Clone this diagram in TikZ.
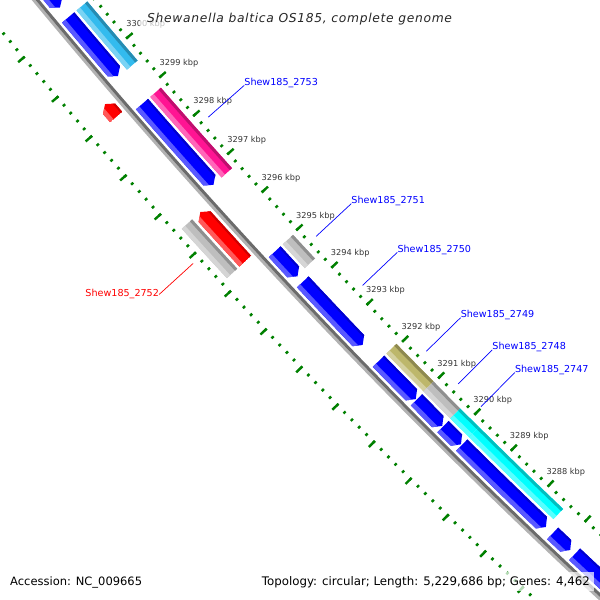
\documentclass[tikz,border=0pt]{standalone}
\usepackage{fontspec}
\setmainfont{DejaVu Sans}
\usetikzlibrary{positioning}

\definecolor{vertgrad}{HTML}{008000}
\definecolor{bleucds}{HTML}{0000FF}
\definecolor{rougecds}{HTML}{FF0000}
\definecolor{cogciel}{HTML}{33BBEE}
\definecolor{cogrose}{HTML}{FF1493}
\definecolor{coggris}{HTML}{BEBEBE}
\definecolor{cogolive}{HTML}{BDB76B}
\definecolor{cogcyan}{HTML}{00FFFF}
\definecolor{gristexte}{HTML}{333333}

\tikzstyle{squelette-clair}=[draw=black!30, line width=3pt]
\tikzstyle{squelette-fonce}=[draw=black!58, line width=3pt]
\tikzstyle{grad-min}=[draw=vertgrad, line width=2.4pt]
\tikzstyle{etiq-kbp}=[anchor=west, inner sep=0pt, text=gristexte, font={\fontsize{8.2}{10}\selectfont}]
\tikzstyle{etiq-gene}=[inner sep=0pt, font={\fontsize{9.6}{11}\selectfont}]
\tikzstyle{trait-gene}=[line width=0.7pt]
\tikzstyle{cadre-texte}=[fill=white, fill opacity=0.7, text opacity=1]

% position (kbp) -> angle
\newcommand{\ang}[1]{(139.56+0.4717*(#1-3300))}
\newcommand{\secteur}[4]{({\ang{#1}}:#3) arc[start angle={\ang{#1}}, end angle={\ang{#2}}, radius=#3] -- ({\ang{#2}}:#4) arc[start angle={\ang{#2}}, end angle={\ang{#1}}, radius=#4] -- cycle}
% gene: queue, pointe, r int, r ext, couleur
\newcommand{\gene}[5]{%
  \pgfmathsetmacro{\pb}{#2+(#1>#2?0.12:-0.12)}%
  \pgfmathsetmacro{\rmil}{(#3+#4)/2}%
  \pgfmathsetmacro{\rcl}{#4-4.5}%
  \pgfmathsetmacro{\rfo}{#3+2}%
  \pgfmathsetmacro{\rin}{#3-1}%
  \pgfmathsetmacro{\rex}{#4+1}%
  \begin{scope}
    \clip ({\ang{#1}}:#3) arc[start angle={\ang{#1}}, end angle={\ang{\pb}}, radius=#3]
      -- ({\ang{#2}}:\rmil) -- ({\ang{\pb}}:#4)
      arc[start angle={\ang{\pb}}, end angle={\ang{#1}}, radius=#4] -- cycle;
    \fill[#5] \secteur{#1}{#2}{\rin}{\rex};
    \fill[#5!65!white] \secteur{#1}{#2}{\rcl}{\rex};
    \fill[#5!80!black] \secteur{#1}{#2}{\rin}{\rfo};
  \end{scope}}
% bloc COG: debut, fin, r int, r ext, couleur
\newcommand{\bloc}[5]{%
  \pgfmathsetmacro{\rcl}{#4-4.5}%
  \pgfmathsetmacro{\rfo}{#3+3}%
  \fill[#5] \secteur{#1}{#2}{#3}{#4};
  \fill[#5!65!white] \secteur{#1}{#2}{\rcl}{#4};
  \fill[#5!75!black] \secteur{#1}{#2}{#3}{\rfo};}

\begin{document}
\begin{tikzpicture}[x=1pt, y=-1pt]
\useasboundingbox (0,0) rectangle (600,600);
\clip (0,0) rectangle (600,600);
\begin{scope}[shift={(4867,-4002)}]
  % squelette
  \draw[squelette-clair] ({\ang{3304}}:6275.5) arc[start angle={\ang{3304}}, end angle={\ang{3283}}, radius=6275.5];
  \draw[squelette-fonce] ({\ang{3304}}:6272.5) arc[start angle={\ang{3304}}, end angle={\ang{3283}}, radius=6272.5];

  % graduations
  \foreach \ra/\rb/\rc/\rd in {6226.5/6229.5/6221/6229.5, 6318.5/6321.5/6318.5/6327}{
    \foreach \m [evaluate=\m as \p using 3283+\m/5] in {0,...,105}
      \draw[grad-min] ({\ang{\p}}:\ra) -- ({\ang{\p}}:\rb);
    \foreach \k in {3283,...,3304}
      \draw[grad-min] ({\ang{\k}}:\rc) -- ({\ang{\k}}:\rd);
  }

  % brin -
  \gene{3303.5}{3301.29}{6252}{6268}{bleucds}
  \gene{3301.04}{3299.55}{6252}{6268}{bleucds}
  \gene{3298.83}{3296.74}{6252}{6268}{bleucds}
  \gene{3294.98}{3294.33}{6252}{6268}{bleucds}
  \gene{3294.18}{3292.49}{6252}{6268}{bleucds}
  \gene{3292.05}{3291.02}{6252}{6268}{bleucds}
  \gene{3291.00}{3290.29}{6252}{6268}{bleucds}
  \gene{3290.27}{3289.78}{6252}{6268}{bleucds}
  \gene{3289.76}{3287.48}{6252}{6268}{bleucds}
  \gene{3287.30}{3286.83}{6252}{6268}{bleucds}
  \gene{3286.71}{3284.0}{6252}{6268}{bleucds}
  \bloc{3301.04}{3299.53}{6235}{6249}{cogciel}
  \bloc{3298.83}{3296.74}{6235}{6249}{cogrose}
  \bloc{3294.98}{3294.35}{6235}{6249}{coggris}
  \bloc{3292.05}{3291.02}{6235}{6249}{cogolive}
  \bloc{3291.02}{3290.28}{6235}{6249}{coggris}
  \bloc{3290.28}{3289.77}{6235}{6249}{cogcyan}
  \bloc{3289.77}{3287.48}{6235}{6249}{cogcyan}

  % brin +
  \gene{3298.97}{3299.30}{6280}{6296}{rougecds}
  \gene{3295.23}{3296.52}{6280}{6296}{rougecds}
  \bloc{3296.52}{3295.23}{6299}{6313}{coggris}

  % kbp
  \foreach \k in {3288,...,3300}
    \node[etiq-kbp] (kbp\k) at ({\ang{\k}+0.1}:6220) {\k\ kbp};

  % noms des genes
  \foreach \p/\nom in {3297.79/2753, 3294.65/2751, 3293.33/2750, 3291.54/2749, 3290.65/2748, 3290.02/2747}{
    \coordinate (d\nom) at ({\ang{\p}}:6219);
    \node[etiq-gene, text=blue, anchor=base west] (l\nom) at ({\ang{\p}}:6171) {Shew185\_\nom};
    \draw[trait-gene, blue] (d\nom) -- (l\nom.base west);
  }
  \coordinate (d2752) at ({\ang{3295.88}}:6328);
  \node[etiq-gene, text=red, anchor=east] (l2752) at ({\ang{3295.88}}:6374) {Shew185\_2752};
  \draw[trait-gene, red] (d2752) -- (l2752.east);
\end{scope}

\node[cadre-texte, anchor=base west, inner xsep=7pt, inner ysep=9pt, text=black!85,
  font={\fontsize{12.3}{14}\selectfont\addfontfeatures{LetterSpace=5.6}\itshape}] (titre) at (140,22) {Shewanella baltica OS185, complete genome};
\node[cadre-texte, anchor=base west, inner sep=4pt, font={\fontsize{11.5}{14}\selectfont}] (acces) at (6,585) {Accession: NC\_009665};
\node[cadre-texte, anchor=base east, inner sep=4pt, font={\fontsize{11.8}{14}\selectfont}] (topo) at (594,585) {Topology: circular; Length: 5,229,686 bp; Genes: 4,462};
\end{tikzpicture}
\end{document}
